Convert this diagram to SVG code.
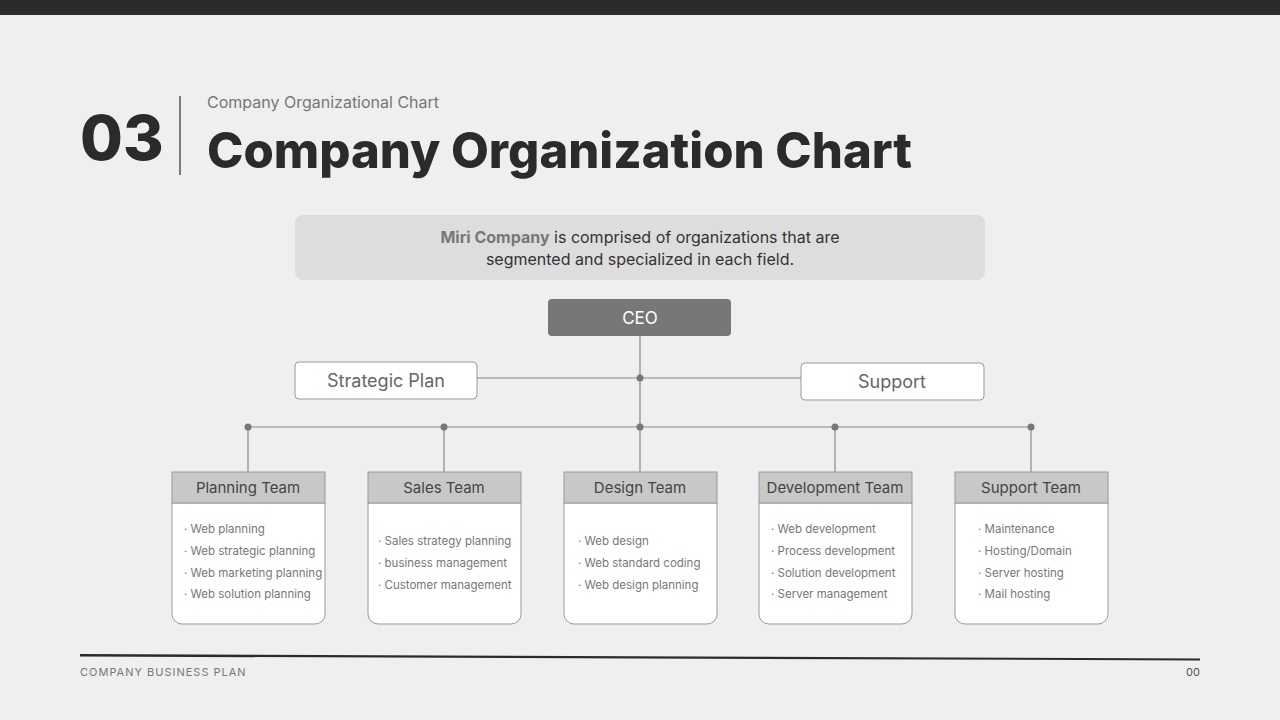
<svg xmlns="http://www.w3.org/2000/svg" width="1280" height="720" viewBox="0 0 1280 720">
<style>
text{font-family:Inter,"Noto Sans","Liberation Sans",sans-serif}
.hd{fill:#c8c8c8;stroke:#999;stroke-width:1}
.bd{fill:#fff;stroke:#999;stroke-width:1}
.ht{font-size:15px;fill:#444;text-anchor:middle}
.it{font-size:11.5px;fill:#777}
.ln{stroke:#888;stroke-width:1.2;fill:none}
.dot{fill:#777}
</style>
<rect width="1280" height="720" fill="#efefef"/>
<rect width="1280" height="15" fill="#2b2b2b"/>
<text x="80" y="160" font-size="62" font-weight="800" fill="#2b2b2b">03</text>
<line x1="180" y1="96" x2="180" y2="175" stroke="#555" stroke-width="1.5"/>
<text x="207" y="108" font-size="16" fill="#777">Company Organizational Chart</text>
<text x="207" y="168" font-size="49" font-weight="800" fill="#2b2b2b">Company Organization Chart</text>
<g id="intro">
<rect x="295" y="215" width="690" height="65" rx="8" fill="#dddddd"/>
<text x="640" y="243" font-size="16" fill="#333" text-anchor="middle"><tspan font-weight="700" fill="#777">Miri Company</tspan> is comprised of organizations that are</text>
<text x="640" y="265" font-size="16" fill="#333" text-anchor="middle">segmented and specialized in each field.</text>
</g>
<g id="connectors">
<line class="ln" x1="640" y1="336" x2="640" y2="472"/>
<line class="ln" x1="477" y1="378" x2="801" y2="378"/>
<line class="ln" x1="248" y1="427" x2="1031" y2="427"/>
<line class="ln" x1="248" y1="427" x2="248" y2="472"/>
<line class="ln" x1="444" y1="427" x2="444" y2="472"/>
<line class="ln" x1="835" y1="427" x2="835" y2="472"/>
<line class="ln" x1="1031" y1="427" x2="1031" y2="472"/>
<circle class="dot" cx="640" cy="378" r="3.5"/>
<circle class="dot" cx="248" cy="427" r="3.5"/>
<circle class="dot" cx="444" cy="427" r="3.5"/>
<circle class="dot" cx="640" cy="427" r="3.5"/>
<circle class="dot" cx="835" cy="427" r="3.5"/>
<circle class="dot" cx="1031" cy="427" r="3.5"/>
</g>
<g id="ceo"><rect x="548" y="299" width="183" height="37" rx="4" fill="#777"/><text x="640" y="324" font-size="17" fill="#fff" text-anchor="middle">CEO</text></g>
<g id="strategic"><rect x="295" y="362" width="182" height="37" rx="4" fill="#fff" stroke="#999"/><text x="386" y="387" font-size="18" fill="#666" text-anchor="middle">Strategic Plan</text></g>
<g id="support"><rect x="801" y="363" width="183" height="37" rx="4" fill="#fff" stroke="#999"/><text x="892" y="388" font-size="18" fill="#666" text-anchor="middle">Support</text></g>
<g id="planning">
<path class="bd" d="M172 503H325V614a10 10 0 0 1-10 10H182a10 10 0 0 1-10-10Z"/>
<rect class="hd" x="172" y="472" width="153" height="31"/>
<text class="ht" x="248" y="493">Planning Team</text>
<text class="it" x="184" y="533">· Web planning</text><text class="it" x="184" y="555">· Web strategic planning</text><text class="it" x="184" y="577">· Web marketing planning</text><text class="it" x="184" y="598">· Web solution planning</text>
</g>
<g id="sales">
<path class="bd" d="M368 503H521V614a10 10 0 0 1-10 10H378a10 10 0 0 1-10-10Z"/>
<rect class="hd" x="368" y="472" width="153" height="31"/>
<text class="ht" x="444" y="493">Sales Team</text>
<text class="it" x="378" y="545">· Sales strategy planning</text><text class="it" x="378" y="567">· business management</text><text class="it" x="378" y="589">· Customer management</text>
</g>
<g id="design">
<path class="bd" d="M564 503H717V614a10 10 0 0 1-10 10H574a10 10 0 0 1-10-10Z"/>
<rect class="hd" x="564" y="472" width="153" height="31"/>
<text class="ht" x="640" y="493">Design Team</text>
<text class="it" x="578" y="545">· Web design</text><text class="it" x="578" y="567">· Web standard coding</text><text class="it" x="578" y="589">· Web design planning</text>
</g>
<g id="development">
<path class="bd" d="M759 503H912V614a10 10 0 0 1-10 10H769a10 10 0 0 1-10-10Z"/>
<rect class="hd" x="759" y="472" width="153" height="31"/>
<text class="ht" x="835" y="493">Development Team</text>
<text class="it" x="771" y="533">· Web development</text><text class="it" x="771" y="555">· Process development</text><text class="it" x="771" y="577">· Solution development</text><text class="it" x="771" y="598">· Server management</text>
</g>
<g id="supportteam">
<path class="bd" d="M955 503H1108V614a10 10 0 0 1-10 10H965a10 10 0 0 1-10-10Z"/>
<rect class="hd" x="955" y="472" width="153" height="31"/>
<text class="ht" x="1031" y="493">Support Team</text>
<text class="it" x="978" y="533">· Maintenance</text><text class="it" x="978" y="555">· Hosting/Domain</text><text class="it" x="978" y="577">· Server hosting</text><text class="it" x="978" y="598">· Mail hosting</text>
</g>
<polygon points="80,654 1200,658.5 1200,660.5 80,656.5" fill="#2b2b2b"/>
<text x="80" y="676" font-size="11" fill="#777" letter-spacing="1">COMPANY BUSINESS PLAN</text>
<text x="1200" y="676" font-size="11" fill="#555" text-anchor="end">00</text>
</svg>
